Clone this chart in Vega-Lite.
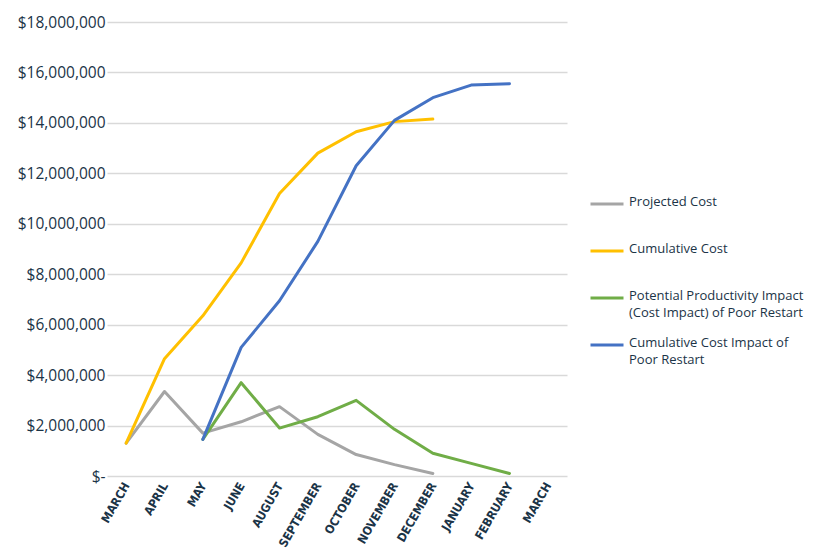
{
  "$schema": "https://vega.github.io/schema/vega-lite/v6.json",
  "autosize": "none",
  "width": 460,
  "height": 454,
  "padding": {"left": 107, "top": 22, "right": 250, "bottom": 74},
  "background": "white",
  "config": {"view": {"stroke": null}, "font": "Open Sans"},
  "data": {"values": [
    {"month": "MARCH", "series": "Projected Cost", "value": 1300000},
    {"month": "APRIL", "series": "Projected Cost", "value": 3350000},
    {"month": "MAY", "series": "Projected Cost", "value": 1700000},
    {"month": "JUNE", "series": "Projected Cost", "value": 2150000},
    {"month": "AUGUST", "series": "Projected Cost", "value": 2750000},
    {"month": "SEPTEMBER", "series": "Projected Cost", "value": 1650000},
    {"month": "OCTOBER", "series": "Projected Cost", "value": 850000},
    {"month": "NOVEMBER", "series": "Projected Cost", "value": 450000},
    {"month": "DECEMBER", "series": "Projected Cost", "value": 100000},
    {"month": "MARCH", "series": "Cumulative Cost", "value": 1300000},
    {"month": "APRIL", "series": "Cumulative Cost", "value": 4650000},
    {"month": "MAY", "series": "Cumulative Cost", "value": 6350000},
    {"month": "JUNE", "series": "Cumulative Cost", "value": 8450000},
    {"month": "AUGUST", "series": "Cumulative Cost", "value": 11200000},
    {"month": "SEPTEMBER", "series": "Cumulative Cost", "value": 12800000},
    {"month": "OCTOBER", "series": "Cumulative Cost", "value": 13650000},
    {"month": "NOVEMBER", "series": "Cumulative Cost", "value": 14050000},
    {"month": "DECEMBER", "series": "Cumulative Cost", "value": 14150000},
    {"month": "MAY", "series": "Potential Productivity Impact (Cost Impact) of Poor Restart", "value": 1450000},
    {"month": "JUNE", "series": "Potential Productivity Impact (Cost Impact) of Poor Restart", "value": 3700000},
    {"month": "AUGUST", "series": "Potential Productivity Impact (Cost Impact) of Poor Restart", "value": 1900000},
    {"month": "SEPTEMBER", "series": "Potential Productivity Impact (Cost Impact) of Poor Restart", "value": 2350000},
    {"month": "OCTOBER", "series": "Potential Productivity Impact (Cost Impact) of Poor Restart", "value": 3000000},
    {"month": "NOVEMBER", "series": "Potential Productivity Impact (Cost Impact) of Poor Restart", "value": 1850000},
    {"month": "DECEMBER", "series": "Potential Productivity Impact (Cost Impact) of Poor Restart", "value": 900000},
    {"month": "JANUARY", "series": "Potential Productivity Impact (Cost Impact) of Poor Restart", "value": 500000},
    {"month": "FEBRUARY", "series": "Potential Productivity Impact (Cost Impact) of Poor Restart", "value": 100000},
    {"month": "MAY", "series": "Cumulative Cost Impact of Poor Restart", "value": 1450000},
    {"month": "JUNE", "series": "Cumulative Cost Impact of Poor Restart", "value": 5100000},
    {"month": "AUGUST", "series": "Cumulative Cost Impact of Poor Restart", "value": 6950000},
    {"month": "SEPTEMBER", "series": "Cumulative Cost Impact of Poor Restart", "value": 9300000},
    {"month": "OCTOBER", "series": "Cumulative Cost Impact of Poor Restart", "value": 12300000},
    {"month": "NOVEMBER", "series": "Cumulative Cost Impact of Poor Restart", "value": 14100000},
    {"month": "DECEMBER", "series": "Cumulative Cost Impact of Poor Restart", "value": 15000000},
    {"month": "JANUARY", "series": "Cumulative Cost Impact of Poor Restart", "value": 15500000},
    {"month": "FEBRUARY", "series": "Cumulative Cost Impact of Poor Restart", "value": 15550000}
  ]},
  "mark": {"type": "line", "strokeWidth": 3, "strokeCap": "round", "strokeJoin": "round"},
  "encoding": {
    "x": {
      "field": "month", "type": "ordinal",
      "scale": {"type": "point", "padding": 0.5, "domain": ["MARCH", "APRIL", "MAY", "JUNE", "AUGUST", "SEPTEMBER", "OCTOBER", "NOVEMBER", "DECEMBER", "JANUARY", "FEBRUARY", "MARCH "]},
      "axis": {
        "title": null, "domain": false, "ticks": false, "grid": false,
        "labelAngle": -60, "labelAlign": "right", "labelBaseline": "middle",
        "labelFont": "DejaVu Sans Condensed", "labelFontWeight": "bold", "labelFontSize": 12,
        "labelColor": "#1B3447", "labelPadding": 7, "labelOverlap": false
      }
    },
    "y": {
      "field": "value", "type": "quantitative",
      "scale": {"domain": [0, 18000000], "nice": false},
      "axis": {
        "title": null, "domain": false, "ticks": false, "labelOverlap": false,
        "values": [0, 2000000, 4000000, 6000000, 8000000, 10000000, 12000000, 14000000, 16000000, 18000000],
        "labelExpr": "datum.value == 0 ? '$-' : '$' + format(datum.value, ',.0f')",
        "labelFont": "Open Sans", "labelFontSize": 15.5, "labelColor": "#1B3447", "labelPadding": 2,
        "gridColor": "#D9D9D9", "gridWidth": 1.3
      }
    },
    "color": {
      "field": "series", "type": "nominal",
      "scale": {
        "domain": ["Projected Cost", "Cumulative Cost", "Potential Productivity Impact (Cost Impact) of Poor Restart", "Cumulative Cost Impact of Poor Restart"],
        "range": ["#A5A5A5", "#FFC000", "#70AD47", "#4472C4"]
      },
      "legend": {
        "title": null, "orient": "none", "legendX": 482, "legendY": 164,
        "symbolType": "stroke", "symbolStrokeWidth": 3, "symbolSize": 1089,
        "labelFont": "Open Sans", "labelFontSize": 13, "labelColor": "#1B3447",
        "labelLimit": 300, "rowPadding": 7, "labelOffset": 4,
        "labelBaseline": "top",
        "labelExpr": "datum.label == 'Potential Productivity Impact (Cost Impact) of Poor Restart' ? ['Potential Productivity Impact', '(Cost Impact) of Poor Restart'] : datum.label == 'Cumulative Cost Impact of Poor Restart' ? ['Cumulative Cost Impact of', 'Poor Restart'] : [datum.label, ' ']",
        "encode": {"labels": {"update": {"dy": {"value": -8}, "lineHeight": {"value": 17}}}}
      }
    }
  }
}
